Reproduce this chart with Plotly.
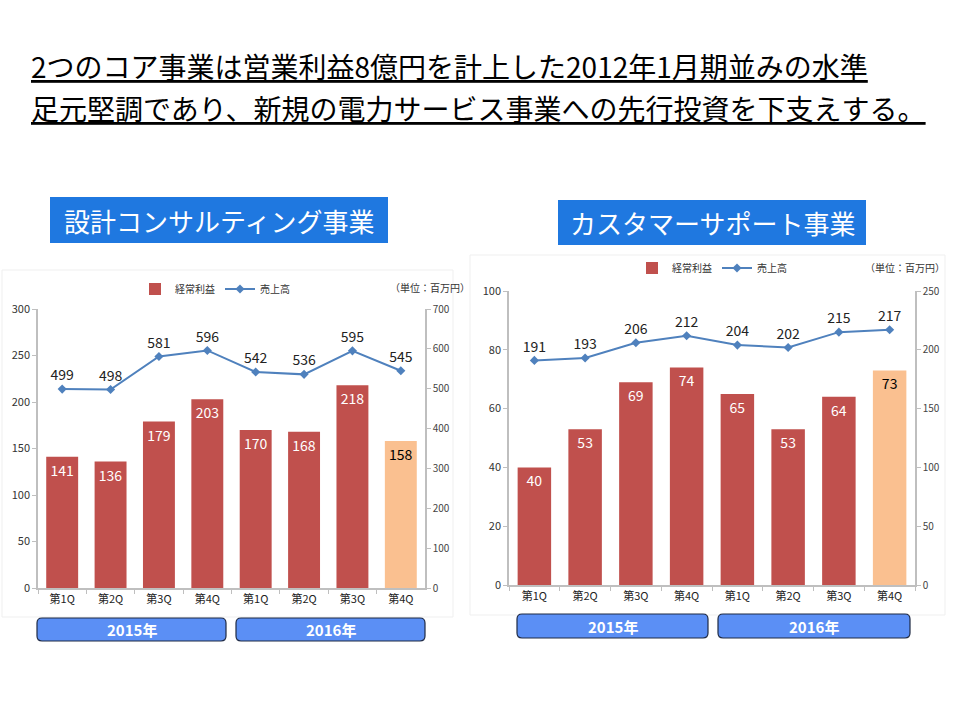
import plotly.graph_objects as go

# ---- data ----
quarters = ["第1Q", "第2Q", "第3Q", "第4Q", "第1Q ", "第2Q ", "第3Q ", "第4Q "]
quarter_labels = ["第1Q", "第2Q", "第3Q", "第4Q", "第1Q", "第2Q", "第3Q", "第4Q"]
years = ["2015年", "2016年"]

design_profit = [141, 136, 179, 203, 170, 168, 218, 158]
design_sales = [499, 498, 581, 596, 542, 536, 595, 545]

support_profit = [40, 53, 69, 74, 65, 53, 64, 73]
support_sales = [191, 193, 206, 212, 204, 202, 215, 217]

profit_name = "経常利益"
sales_name = "売上高"
unit_text = "（単位：百万円）"
title_lines = ["2つのコア事業は営業利益8億円を計上した2012年1月期並みの水準",
               "足元堅調であり、新規の電力サービス事業への先行投資を下支えする。"]
headings = ["設計コンサルティング事業", "カスタマーサポート事業"]

# ---- styles ----
FONT = "Noto Sans CJK JP"
RED = "#C0504D"
PEACH = "#FAC090"
BLUE = "#4F81BD"
W, H = 960, 720

bar_colors = [RED] * 7 + [PEACH]
bar_text_colors = ["white"] * 7 + ["black"]

fig = go.Figure()

def px_x(x):
    return x / W

def px_y(y):
    return 1 - y / H

panels = [
    dict(profit=design_profit, sales=design_sales, xa="x", ya="y", ya2="y2",
         legend="legend", dom_x=(38, 425), dom_y=(309, 588),
         y1max=300, y1dt=50, y2max=700, y2dt=100),
    dict(profit=support_profit, sales=support_sales, xa="x2", ya="y3", ya2="y4",
         legend="legend2", dom_x=(509, 915), dom_y=(291, 585),
         y1max=100, y1dt=20, y2max=250, y2dt=50),
]

for p in panels:
    fig.add_trace(go.Bar(
        x=quarters, y=p["profit"], name=profit_name,
        marker=dict(color=bar_colors, line=dict(width=0)),
        text=[str(v) for v in p["profit"]], textposition="inside",
        insidetextanchor="end",
        textfont=dict(family=FONT, size=14, color=bar_text_colors),
        xaxis=p["xa"], yaxis=p["ya"], legend=p["legend"],
        cliponaxis=False,
    ))
    fig.add_trace(go.Scatter(
        x=quarters, y=p["sales"], name=sales_name, mode="lines+markers+text",
        line=dict(color=BLUE, width=2),
        marker=dict(symbol="diamond", size=7, color=BLUE),
        text=[str(v) for v in p["sales"]], textposition="top center",
        textfont=dict(family=FONT, size=14, color="#222222"),
        xaxis=p["xa"], yaxis=p["ya2"], legend=p["legend"],
        cliponaxis=False,
    ))

axis_common = dict(
    showgrid=False, zeroline=False, showline=True, linecolor="#BFBFBF",
    linewidth=1.5, ticks="outside", tickcolor="#BFBFBF", ticklen=4,
    automargin=False,
    tickfont=dict(family=FONT, size=11, color="#333333"),
)

layout_axes = {}
for i, p in enumerate(panels):
    xk = "xaxis" if i == 0 else "xaxis2"
    yk = "yaxis" if i == 0 else "yaxis3"
    y2k = "yaxis2" if i == 0 else "yaxis4"
    dom_x = [px_x(p["dom_x"][0]), px_x(p["dom_x"][1])]
    dom_y = [px_y(p["dom_y"][1]), px_y(p["dom_y"][0])]
    layout_axes[xk] = dict(
        axis_common, domain=dom_x, anchor=p["ya"], type="category",
        tickson="boundaries", tickmode="array", tickvals=quarters,
        ticktext=quarter_labels,
        tickfont=dict(family=FONT, size=11, color="#222222"),
    )
    layout_axes[yk] = dict(
        axis_common, domain=dom_y, anchor=p["xa"], range=[0, p["y1max"]],
        dtick=p["y1dt"], tick0=0,
    )
    layout_axes[y2k] = dict(
        axis_common, overlaying=p["ya"], side="right", anchor=p["xa"],
        range=[0, p["y2max"]], dtick=p["y2dt"], tick0=0,
        tickfont=dict(family=FONT, size=10, color="#444444"),
    )

shapes = []
annotations = []

# faint panel frames
for (x0, y0, x1, y1) in [(2, 270, 453, 617), (470, 255, 945, 615)]:
    shapes.append(dict(type="rect", xref="paper", yref="paper",
                       x0=px_x(x0), x1=px_x(x1), y0=px_y(y1), y1=px_y(y0),
                       line=dict(color="#EFEFEF", width=1), fillcolor="rgba(0,0,0,0)",
                       layer="below"))

# title (two lines meeting at y=87 px)
for line, anchor in zip(title_lines, ["bottom", "top"]):
    annotations.append(dict(
        text=f"<u>{line}</u>", x=px_x(30), y=px_y(87), xref="paper", yref="paper",
        xanchor="left", yanchor=anchor, showarrow=False, borderpad=0,
        font=dict(family=FONT, size=28, color="black"),
    ))

# headings
for text, (x0, y0, x1, y1) in zip(headings, [(50, 197, 388, 243), (558, 200, 866, 245)]):
    shapes.append(dict(type="rect", xref="paper", yref="paper",
                       x0=px_x(x0), x1=px_x(x1), y0=px_y(y1), y1=px_y(y0),
                       fillcolor="#1F78E0", line=dict(width=0)))
    annotations.append(dict(
        text=text, x=px_x((x0 + x1) / 2), y=px_y((y0 + y1) / 2),
        xref="paper", yref="paper", xanchor="center", yanchor="middle",
        showarrow=False, font=dict(family=FONT, size=26, color="white"),
    ))

# unit labels
for (xc, yc) in [(430, 287), (905, 267)]:
    annotations.append(dict(
        text=unit_text, x=px_x(xc), y=px_y(yc), xref="paper", yref="paper",
        xanchor="center", yanchor="middle", showarrow=False,
        font=dict(family=FONT, size=10, color="#333333"),
    ))

# year boxes
def rounded_rect(x0, y0, x1, y1, r=5):
    Y0, Y1 = px_y(y1), px_y(y0)
    rx, ry = r / W, r / H
    X0, X1 = px_x(x0), px_x(x1)
    return (f"M {X0+rx},{Y0} L {X1-rx},{Y0} Q {X1},{Y0} {X1},{Y0+ry} "
            f"L {X1},{Y1-ry} Q {X1},{Y1} {X1-rx},{Y1} L {X0+rx},{Y1} "
            f"Q {X0},{Y1} {X0},{Y1-ry} L {X0},{Y0+ry} Q {X0},{Y0} {X0+rx},{Y0} Z")

year_boxes = [
    (37, 618, 226, 641), (236, 618, 425, 641),
    (517, 614, 708, 638), (718, 614, 910, 638),
]
for k, (x0, y0, x1, y1) in enumerate(year_boxes):
    shapes.append(dict(type="path", xref="paper", yref="paper",
                       path=rounded_rect(x0, y0, x1, y1),
                       fillcolor="#5B8FF5", line=dict(color="#1F2A44", width=1.2)))
    annotations.append(dict(
        text=f"<b>{years[k % 2]}</b>", x=px_x((x0 + x1) / 2), y=px_y((y0 + y1) / 2),
        xref="paper", yref="paper", xanchor="center", yanchor="middle",
        showarrow=False, font=dict(family=FONT, size=15, color="white"),
    ))

fig.update_layout(
    width=W, height=H, margin=dict(l=0, r=0, t=0, b=0, pad=0, autoexpand=False),
    paper_bgcolor="white", plot_bgcolor="rgba(0,0,0,0)",
    barmode="overlay", bargap=0.34,
    font=dict(family=FONT),
    showlegend=True,
    legend=dict(orientation="h", x=px_x(215), y=px_y(289), xanchor="center",
                yanchor="middle", font=dict(family=FONT, size=10, color="#333333"),
                bgcolor="rgba(0,0,0,0)", itemwidth=30, tracegroupgap=0),
    legend2=dict(orientation="h", x=px_x(712), y=px_y(268), xanchor="center",
                 yanchor="middle", font=dict(family=FONT, size=10, color="#333333"),
                 bgcolor="rgba(0,0,0,0)", itemwidth=30, tracegroupgap=0),
    shapes=shapes, annotations=annotations,
    **layout_axes,
)

fig.write_html(
    "out.html",
    config={"displayModeBar": False},
    post_script="document.body.style.margin='0';document.body.style.overflow='hidden';",
)
